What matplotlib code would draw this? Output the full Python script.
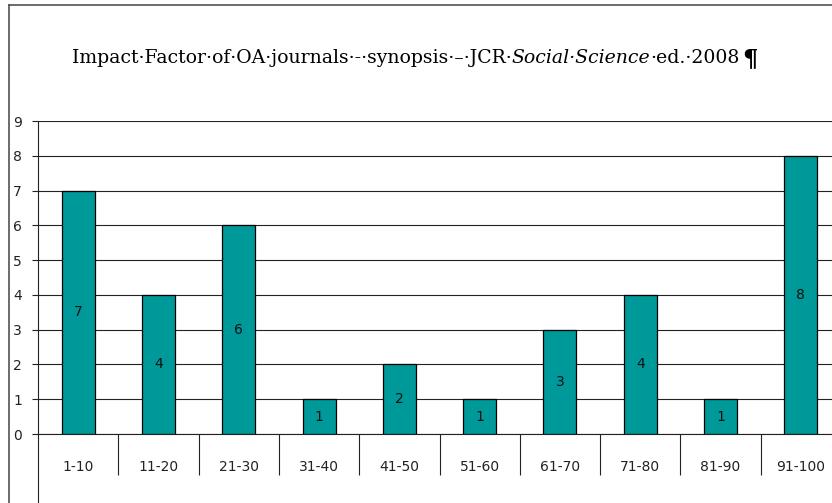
import matplotlib
matplotlib.use("Agg")
import matplotlib.pyplot as plt
from matplotlib.lines import Line2D
import numpy as np

categories = ["1-10", "11-20", "21-30", "31-40", "41-50",
              "51-60", "61-70", "71-80", "81-90", "91-100"]
counts = [7, 4, 6, 1, 2, 1, 3, 4, 1, 8]
y_ticks = list(range(0, 10))

W, H = 832, 503
DPI = 100
BAR_COLOR = "#009999"
LINE = "#222222"

fig = plt.figure(figsize=(W / DPI, H / DPI), dpi=DPI)
fig.patch.set_facecolor("white")

# plot area in pixels (category width runs past the right edge, as in the source)
left_px, top_px, bottom_px, cat_w = 38, 121, 434, 80.3
ax = fig.add_axes([left_px / W, (H - bottom_px) / H,
                   len(categories) * cat_w / W, (bottom_px - top_px) / H])

x = np.arange(len(categories)) + 0.5
ax.bar(x, counts, width=0.41, color=BAR_COLOR, edgecolor="black",
       linewidth=0.9, zorder=3)
for xi, c in zip(x, counts):
    ax.text(xi, c / 2, str(c), ha="center", va="center", fontsize=10,
            color="#111111", zorder=4)

ax.set_xlim(0, len(categories))
ax.set_ylim(0, max(y_ticks))
ax.set_yticks(y_ticks)
ax.tick_params(axis="y", length=4.5, width=0.8, color=LINE, pad=7,
               labelsize=10, labelcolor="#222222")

# category separators below the axis, labels in between
ax.set_xticks(np.arange(1, len(categories) + 1))
ax.set_xticklabels([])
ax.tick_params(axis="x", which="major", direction="out", length=29.5,
               width=0.8, color=LINE)
ax.set_xticks(x, minor=True)
ax.set_xticklabels(categories, minor=True)
ax.tick_params(axis="x", which="minor", length=0, pad=19, labelsize=10,
               labelcolor="#222222")

ax.grid(axis="y", color=LINE, linewidth=0.8, zorder=0)
ax.set_axisbelow(True)
for side in ("top", "right"):
    ax.spines[side].set_visible(False)
for side in ("left", "bottom"):
    ax.spines[side].set_color(LINE)
    ax.spines[side].set_linewidth(0.8)

# left axis continues down to the bottom of the picture
ext = (H - bottom_px) / (bottom_px - top_px)
ax.add_line(Line2D([0, 0], [0, -ext], transform=ax.transAxes,
                   color=LINE, linewidth=0.8, clip_on=False))

# outer frame (top and left edges)
fig.add_artist(Line2D([9 / W, 9 / W], [0, 1 - 5 / H], color="#444444",
                      linewidth=1.1))
fig.add_artist(Line2D([9 / W, 1], [1 - 5 / H, 1 - 5 / H], color="#444444",
                      linewidth=1.1))

# title, with an italic part, placed piece by piece
pieces = [
    ("Impact\u00b7Factor\u00b7of\u00b7OA\u00b7journals\u00b7-\u00b7synopsis\u00b7\u2013\u00b7JCR\u00b7",
     "normal", "normal", 1.0, 0),
    ("Social\u00b7Science", "italic", "normal", 1.0, 0),
    ("\u00b7ed.\u00b72008", "normal", "normal", 1.0, 0),
    ("\u00b6", "normal", "bold", 1.3, 3),
]
base = 12
renderer = fig.canvas.get_renderer()
texts = []
for s, style, weight, scale, dy in pieces:
    texts.append(fig.text(0, 1 - 63 / H, s, fontsize=base * scale, style=style,
                          weight=weight, family="DejaVu Serif",
                          color="black", va="baseline", ha="left"))
# fit the title to the width it takes in the source (x 72..755)
total = sum(t.get_window_extent(renderer).width for t in texts)
k = 683 / total
for t, (s, style, weight, scale, dy) in zip(texts, pieces):
    t.set_fontsize(base * scale * k)
widths = [t.get_window_extent(renderer).width for t in texts]
xpos = 72
for t, w, p in zip(texts, widths, pieces):
    t.set_position((xpos / W, 1 - (63 + p[4]) / H))
    xpos += w + (2 if p[4] == 0 and p is pieces[2] else 0)

fig.savefig("out.png", dpi=DPI)
